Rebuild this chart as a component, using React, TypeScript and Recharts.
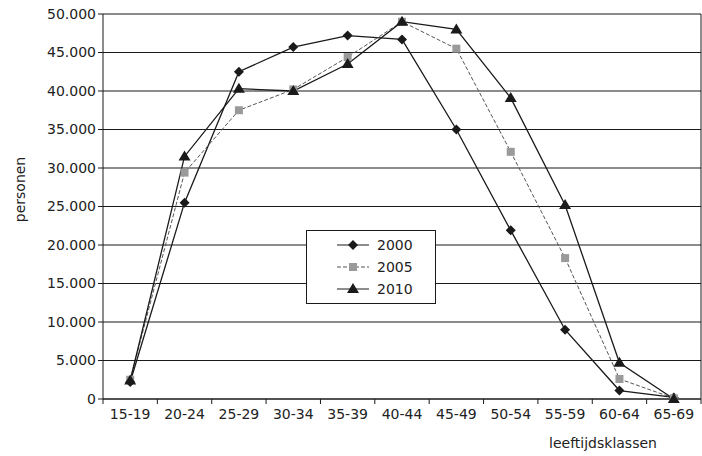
import React from "react";
import {
  LineChart,
  Line,
  XAxis,
  YAxis,
  CartesianGrid,
} from "recharts";

const CATEGORIES = [
  "15-19", "20-24", "25-29", "30-34", "35-39", "40-44",
  "45-49", "50-54", "55-59", "60-64", "65-69",
];
const Y2000 = [2200, 25500, 42500, 45700, 47200, 46700, 35000, 21900, 9000, 1100, 200];
const Y2005 = [2500, 29400, 37500, 40200, 44400, 49000, 45500, 32100, 18300, 2600, 100];
const Y2010 = [2400, 31500, 40300, 40000, 43500, 49000, 48000, 39100, 25200, 4700, 0];
const Y_TICKS = [0, 5000, 10000, 15000, 20000, 25000, 30000, 35000, 40000, 45000, 50000];

const data = CATEGORIES.map((c, i) => ({
  cat: c,
  y2000: Y2000[i],
  y2005: Y2005[i],
  y2010: Y2010[i],
}));

const W = 702;
const H = 456;
const LEFT = 103;
const RIGHT = 1;
const PLOT_W = W - LEFT - RIGHT;
const HALF_BAND = PLOT_W / CATEGORIES.length / 2;
const INK = "#1a1a1a";
const TEXT = "#222";
const FONT = "'DejaVu Sans', sans-serif";

const fmt = (v: number) =>
  v === 0 ? "0" : v.toLocaleString("de-DE").replace(/,/g, ".");

const Diamond = ({ cx, cy }: any) =>
  cx == null ? null : (
    <polygon
      points={`${cx},${cy - 5} ${cx + 5},${cy} ${cx},${cy + 5} ${cx - 5},${cy}`}
      fill={INK}
    />
  );
const Square = ({ cx, cy }: any) =>
  cx == null ? null : (
    <rect x={cx - 4} y={cy - 4} width={8} height={8} fill="#9a9a9a" />
  );
const Triangle = ({ cx, cy }: any) =>
  cx == null ? null : (
    <polygon
      points={`${cx},${cy - 6} ${cx + 6},${cy + 4} ${cx - 6},${cy + 4}`}
      fill={INK}
    />
  );

const XTick = ({ x, y, payload, index }: any) => (
  <g>
    <line x1={x - HALF_BAND} y1={y - 8} x2={x - HALF_BAND} y2={y - 3} stroke={INK} />
    {index === CATEGORIES.length - 1 && (
      <line x1={x + HALF_BAND} y1={y - 8} x2={x + HALF_BAND} y2={y - 3} stroke={INK} />
    )}
    <text x={x} y={y + 12} textAnchor="middle" fontSize={14} fill={TEXT} fontFamily={FONT}>
      {payload.value}
    </text>
  </g>
);

const LEGEND_ITEMS = [
  { label: "2000", Shape: Diamond, dash: undefined, stroke: INK },
  { label: "2005", Shape: Square, dash: "4 2", stroke: "#555" },
  { label: "2010", Shape: Triangle, dash: undefined, stroke: INK },
];

const LegendBox = () => (
  <div
    style={{
      position: "absolute",
      left: 306,
      top: 230,
      border: `1px solid ${INK}`,
      background: "#fff",
      width: 128,
      padding: "3px 0",
      fontFamily: FONT,
      fontSize: 14,
      color: TEXT,
    }}
  >
    {LEGEND_ITEMS.map(({ label, Shape, dash, stroke }) => (
      <div key={label} style={{ display: "flex", alignItems: "center", height: 22 }}>
        <svg width={70} height={16}>
          <line x1={30} y1={8} x2={62} y2={8} stroke={stroke} strokeDasharray={dash} />
          <Shape cx={46} cy={8} />
        </svg>
        <span>{label}</span>
      </div>
    ))}
  </div>
);

export default function App() {
  return (
    <div
      style={{
        position: "absolute",
        left: 0,
        top: 0,
        width: W,
        height: H,
        background: "#fff",
        fontFamily: FONT,
      }}
    >
      <LineChart
        width={W}
        height={H}
        data={data}
        margin={{ top: 14, right: 0, bottom: 0, left: 0 }}
      >
        <CartesianGrid horizontal vertical={false} stroke={INK} strokeWidth={1.2} />
        <XAxis
          dataKey="cat"
          height={57}
          padding={{ left: HALF_BAND, right: HALF_BAND }}
          axisLine={{ stroke: INK }}
          tickLine={false}
          tick={<XTick />}
          interval={0}
          label={{
            value: "leeftijdsklassen",
            position: "insideBottom",
            dx: 201,
            offset: 8,
            fontSize: 14,
            fill: TEXT,
          }}
        />
        <YAxis
          width={LEFT}
          domain={[0, 50000]}
          ticks={Y_TICKS}
          interval={0}
          tickFormatter={fmt}
          axisLine={{ stroke: INK }}
          tickLine={{ stroke: INK }}
          tickSize={5}
          tick={{ fontSize: 14, fill: TEXT }}
          label={{
            value: "personen",
            angle: -90,
            position: "center",
            dx: -31,
            dy: -17,
            fontSize: 14,
            fill: TEXT,
          }}
        />
        <YAxis
          yAxisId="r"
          orientation="right"
          width={RIGHT}
          tick={false}
          tickLine={false}
          axisLine={{ stroke: INK }}
          domain={[0, 50000]}
        />
        <Line
          dataKey="y2000"
          stroke={INK}
          strokeWidth={1.3}
          dot={<Diamond />}
          isAnimationActive={false}
        />
        <Line
          dataKey="y2005"
          stroke="#555"
          strokeWidth={1}
          strokeDasharray="4 2"
          dot={<Square />}
          isAnimationActive={false}
        />
        <Line
          dataKey="y2010"
          stroke={INK}
          strokeWidth={1.3}
          dot={<Triangle />}
          isAnimationActive={false}
        />
      </LineChart>
      <LegendBox />
    </div>
  );
}
